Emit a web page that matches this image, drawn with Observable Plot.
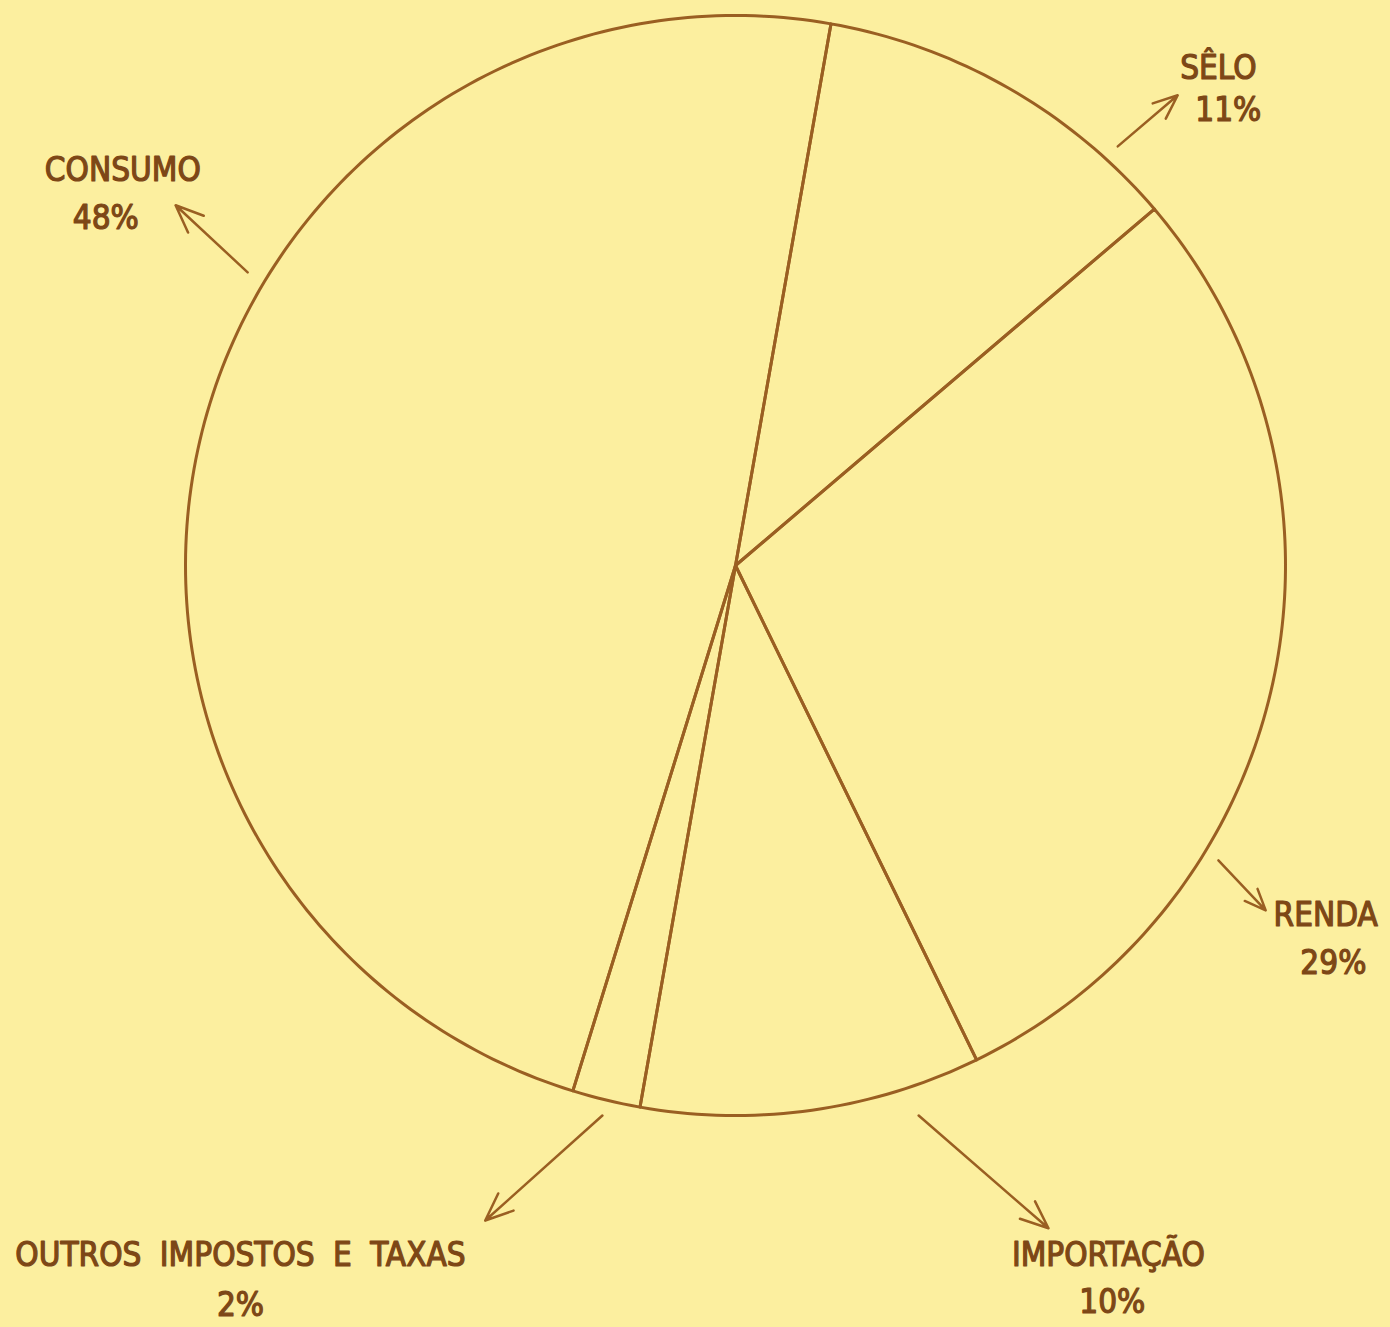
<!DOCTYPE html>
<html><head><meta charset="utf-8">
<script src="https://cdn.jsdelivr.net/npm/d3@7"></script>
<script src="https://cdn.jsdelivr.net/npm/@observablehq/plot@0.6"></script>
<style>html,body{margin:0;padding:0;background:#fcef9f;overflow:hidden} svg text{word-spacing:9px}</style>
</head><body><div id="chart"></div>
<script>
// Data
const categories = ["Sêlo", "Renda", "Importação", "Outros impostos e taxas", "Consumo"];
const labels = ["SÊLO", "RENDA", "IMPORTAÇÃO", "OUTROS IMPOSTOS E TAXAS", "CONSUMO"];
const values = [11, 29, 10, 2, 48];
const pctLabels = ["11%", "29%", "10%", "2%", "48%"];

// Annotation layout (unit coordinates of the pie: radius 1, centre 0,0)
const arrowFrom = [[0.695, 0.762], [0.878, -0.536], [0.333, -1.0], [-0.242, -1.0], [-0.887, 0.533]];
const arrowTo   = [[0.804, 0.855], [0.964, -0.627], [0.569, -1.205], [-0.455, -1.191], [-1.018, 0.655]];
const namePos   = [[0.878, 0.904], [1.073, -0.636], [0.678, -1.255], [-0.900, -1.255], [-1.114, 0.718]];
const pctPos    = [[0.896, 0.827], [1.087, -0.724], [0.685, -1.340], [-0.900, -1.345], [-1.145, 0.631]];

const startDeg = 10; // first slice starts 10° clockwise from north

// Build slice polygons in unit coordinates from the values
const total = d3.sum(values);
const slices = [];
let acc = 0;
categories.forEach((c, i) => {
  const a0 = startDeg + acc / total * 360;
  acc += values[i];
  const a1 = startDeg + acc / total * 360;
  slices.push({cat: c, x: 0, y: 0});
  const n = Math.max(2, Math.ceil((a1 - a0) / 1));
  for (let k = 0; k <= n; k++) {
    const a = (a0 + (a1 - a0) * k / n) * Math.PI / 180;
    slices.push({cat: c, x: Math.sin(a), y: Math.cos(a)});
  }
  slices.push({cat: c, x: 0, y: 0});
});

const ann = categories.map((c, i) => ({
  cat: c, name: labels[i], pct: pctLabels[i],
  x1: arrowFrom[i][0], y1: arrowFrom[i][1], x2: arrowTo[i][0], y2: arrowTo[i][1],
  nx: namePos[i][0], ny: namePos[i][1], px: pctPos[i][0], py: pctPos[i][1]
}));

const ink = "#9a5f22";
const textInk = "#7d4716";
const font = "'DejaVu Sans Condensed', 'DejaVu Sans', sans-serif";

const chart = Plot.plot({
  width: 1390,
  height: 1327,
  margin: 0,
  style: {background: "#fcef9f", overflow: "visible"},
  x: {domain: [-1, 1], range: [185, 1285], axis: null},
  y: {domain: [-1, 1], range: [1115, 15], axis: null},
  marks: [
    Plot.line(slices, {x: "x", y: "y", z: "cat", stroke: ink, strokeWidth: 3, strokeLinejoin: "round", curve: "linear"}),
    Plot.arrow(ann, {x1: "x1", y1: "y1", x2: "x2", y2: "y2", stroke: ink, strokeWidth: 2.5, headLength: 18, headAngle: 45, bend: false}),
    Plot.text(ann, {x: "nx", y: "ny", text: "name", fill: textInk, stroke: textInk, strokeWidth: 1.2, fontSize: 33, fontFamily: font, textAnchor: "middle", lineAnchor: "middle"}),
    Plot.text(ann, {x: "px", y: "py", text: "pct", fill: textInk, stroke: textInk, strokeWidth: 1.2, fontSize: 33, fontFamily: font, textAnchor: "middle", lineAnchor: "middle"})
  ]
});
document.getElementById("chart").appendChild(chart);
</script>
</body></html>
